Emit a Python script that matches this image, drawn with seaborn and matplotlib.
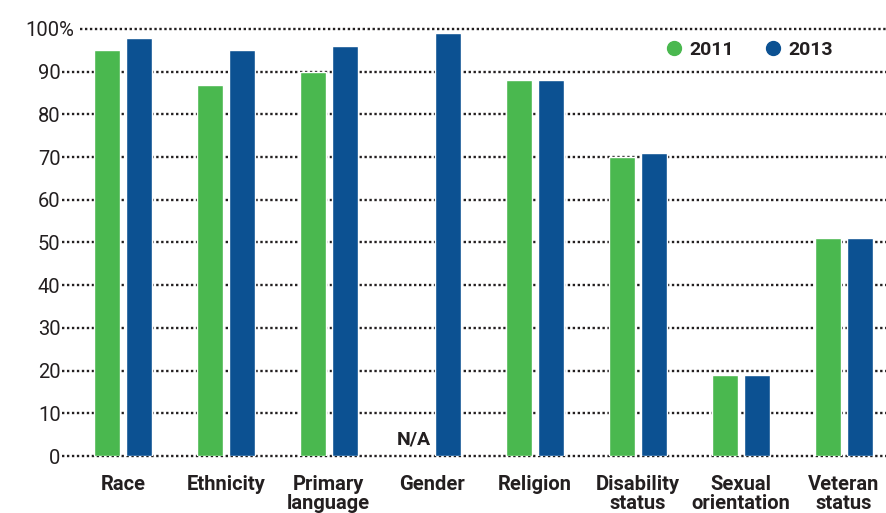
import numpy as np
import pandas as pd
import matplotlib
matplotlib.use("Agg")
import matplotlib.pyplot as plt
import matplotlib.transforms as mtransforms
from matplotlib.lines import Line2D
import seaborn as sns

categories = ["Race", "Ethnicity", "Primary\nlanguage", "Gender", "Religion",
              "Disability\nstatus", "Sexual\norientation", "Veteran\nstatus"]
years = ["2011", "2013"]
values_2011 = [95, 87, 90, np.nan, 88, 70, 19, 51]
values_2013 = [98, 95, 96, 99, 88, 71, 19, 51]
ytick_values = [0, 10, 20, 30, 40, 50, 60, 70, 80, 90, 100]
ytick_labels = ["0", "10", "20", "30", "40", "50", "60", "70", "80", "90", "100%"]
na_label = "N/A"

colors = {"2011": "#4AB84F", "2013": "#0C5192"}
text_color = "#231F20"

df = pd.DataFrame({
    "category": categories * 2,
    "year": ["2011"] * len(categories) + ["2013"] * len(categories),
    "value": values_2011 + values_2013,
})

sns.set_theme(style="white")
plt.rcParams["font.family"] = ["Roboto", "DejaVu Sans"]

fig = plt.figure(figsize=(8.86, 5.13), dpi=100)
ax = fig.add_axes([62 / 886, (513 - 456) / 513, (886 - 62) / 886, (456 - 29) / 513])

sns.barplot(data=df, x="category", y="value", hue="year", order=categories,
            hue_order=years, palette=colors, width=0.62, gap=0.19,
            saturation=1, legend=False, ax=ax, errorbar=None)

ax.set_xlim(-0.59, 7.41)
ax.set_ylim(0, 100)
for s in ax.spines.values():
    s.set_visible(False)
ax.set_xlabel("")
ax.set_ylabel("")

# dotted gridlines
for v in ytick_values:
    xmin = 0.022 if v == 100 else 0.0
    ax.axhline(v, xmin=xmin, xmax=1, color=text_color, linestyle=(0, (1, 1.1)),
               linewidth=1.7, zorder=0, clip_on=False)
for p in ax.patches:
    p.set_zorder(2)

ax.set_yticks(ytick_values)
ax.set_yticklabels(ytick_labels, fontsize=14.5, color=text_color)
ax.tick_params(axis="y", length=0, pad=1)
for lab, v in zip(ax.get_yticklabels(), ytick_values):
    if v == 100:
        lab.set_transform(lab.get_transform() +
                          mtransforms.ScaledTranslation(14 / 100, 0, fig.dpi_scale_trans))

ax.set_xticks(range(len(categories)))
ax.set_xticklabels(categories, fontsize=14.5, fontweight="bold", color=text_color,
                   linespacing=1.0)
ax.tick_params(axis="x", length=0, pad=14)
for lab in ax.get_xticklabels():
    lab.set_verticalalignment("top")

# N/A marker for missing value
for i, (c, v) in enumerate(zip(categories, values_2011)):
    if np.isnan(v):
        ax.text(i - 0.17, 1.8, na_label, ha="center", va="bottom", fontsize=14,
                fontweight="bold", color=text_color)

handles = [Line2D([0], [0], marker="o", linestyle="", markersize=10,
                  markerfacecolor=colors[y], markeredgecolor=colors[y]) for y in years]
leg = ax.legend(handles, years, ncol=2, frameon=False, loc="center right",
                bbox_to_anchor=(0.957, 0.951), handletextpad=0.3, columnspacing=1.5,
                handlelength=1.0, prop={"weight": "bold", "size": 14})
for t in leg.get_texts():
    t.set_color(text_color)

fig.savefig("out.png", dpi=100)
